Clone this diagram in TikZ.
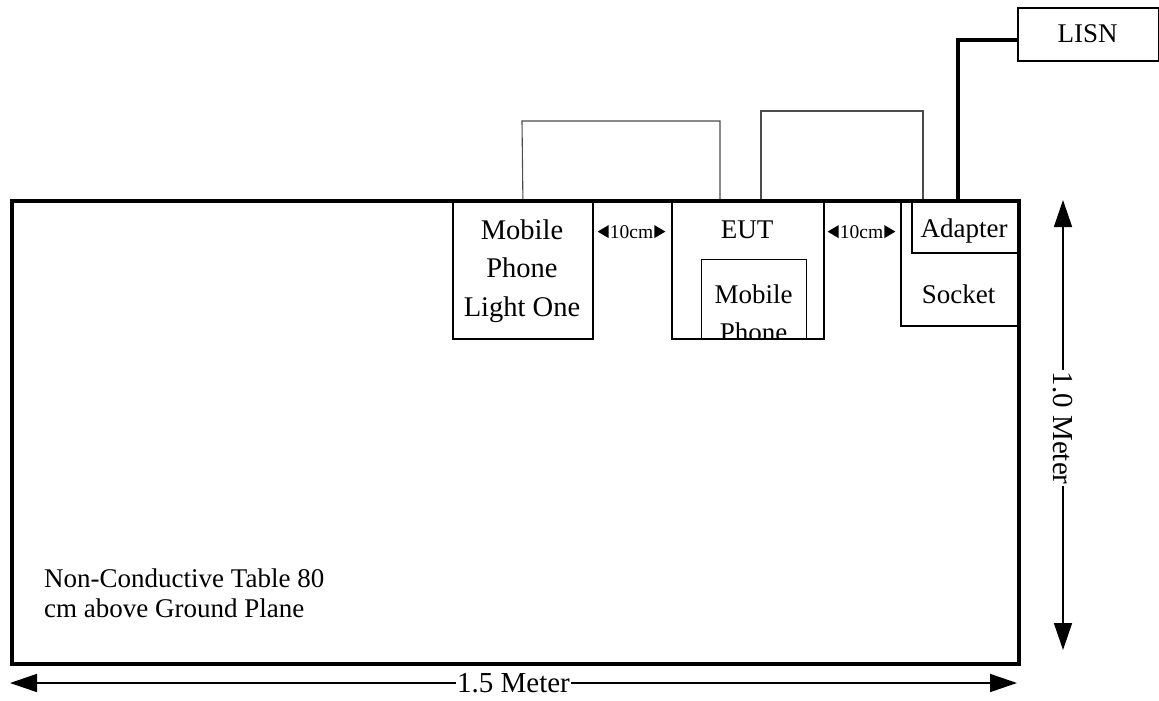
\documentclass[tikz,border=0pt]{standalone}
\usepackage{fontspec}
\setmainfont{Liberation Serif}
\usetikzlibrary{arrows.meta,calc}
\begin{document}
\begin{tikzpicture}[x=1pt,y=-1pt,
  box/.style={draw, line width=1.8pt, inner sep=0pt, anchor=north west},
  cable/.style={draw=black!70, line width=1.1pt},
  thickcable/.style={line width=3.5pt},
  big/.style={font=\fontsize{27}{38.5}\selectfont, inner sep=0pt},
  dimlab/.style={font=\fontsize{29}{30}\selectfont, fill=white, inner sep=1.5pt},
  small/.style={font=\fontsize{19.5}{22}\selectfont, inner sep=0pt},
  dimarrow/.style={line width=1.6pt, {Triangle[length=27pt,width=18pt]}-{Triangle[length=27pt,width=18pt]}},
]
\useasboundingbox (0,0) rectangle (1159,701);

% table
\node[box, line width=3.5pt, minimum width=1007pt, minimum height=463pt] (table) at (10,199) {};
\node[font=\fontsize{27}{29.5}\selectfont, anchor=north west, align=left, inner sep=0pt] (tabletxt) at (44,569) {Non-Conductive Table 80\\cm above Ground Plane};

% mobile phone light one
\node[box, minimum width=140pt, minimum height=139pt] (mpl) at (452,199) {};
\node[font=\fontsize{28.5}{38.5}\selectfont, inner sep=0pt, align=center] (mpltxt) at (522,271) {Mobile\\Phone\\Light One};

% EUT
\node[box, minimum width=152pt, minimum height=139pt] (eut) at (671,199) {};
\node[big, anchor=base] (euttxt) at (747,238) {EUT};
\begin{scope}
  \clip (701,259) rectangle (806,338);
  \node[big, anchor=base] (inmob) at (753.5,303) {Mobile};
  \node[big, anchor=base] (inphone) at (753.5,341) {Phone};
\end{scope}
\node[box, line width=1.4pt, minimum width=105pt, minimum height=79pt] (inner) at (701,259) {};

% socket and adapter
\node[box, minimum width=117pt, minimum height=126pt] (socket) at (900,199) {};
\node[big, anchor=base] (sockettxt) at (958.5,303) {Socket};
\node[box, minimum width=106pt, minimum height=53pt] (adapter) at (911,199) {};
\node[big, anchor=base] (adaptertxt) at (964,237) {Adapter};

% LISN
\node[box, line width=1.6pt, minimum width=141pt, minimum height=53pt] (lisn) at (1017,7) {};
\node[font=\fontsize{27}{30}\selectfont, inner sep=0pt, anchor=base] (lisntxt) at (1087.5,43) {LISN};

% cables
\coordinate (c1a) at (522,121);
\coordinate (c1b) at (720,121);
\coordinate (c1c) at (720,199);
\draw[cable] (mpl.north) -- (c1a) -- (c1b) -- (c1c);
\coordinate (c2s) at (761,199);
\coordinate (c2a) at (761,111);
\coordinate (c2b) at (923,111);
\coordinate (c2c) at (923,199);
\draw[cable] (c2s) -- (c2a) -- (c2b) -- (c2c);
\coordinate (pwr) at (958,199);
\coordinate (lisnin) at (1017,40);
\draw[thickcable] (pwr) |- (lisnin);

% 10cm gaps
\node[small, anchor=base] (gap1) at (631.5,238) {10cm};
\node[small, anchor=base] (gap2) at (861.5,238) {10cm};
\foreach \g in {gap1,gap2}{
  \fill ($(\g.west)+(-1,-6.5)$) -- ++(0,13) -- ++(-11,-6.5) -- cycle;
  \fill ($(\g.east)+(1,-6.5)$) -- ++(0,13) -- ++(11,-6.5) -- cycle;
}

% dimensions
\coordinate (vt) at (1063,200);
\coordinate (vb) at (1063,650);
\draw[dimarrow] (vt) -- (vb) node[dimlab, pos=0.507, rotate=-90] (vlab) {1.0 Meter};
\coordinate (hl) at (10,683);
\coordinate (hr) at (1017,683);
\draw[dimarrow] (hl) -- (hr) node[dimlab, pos=0.5] (hlab) {1.5 Meter};
\end{tikzpicture}
\end{document}
